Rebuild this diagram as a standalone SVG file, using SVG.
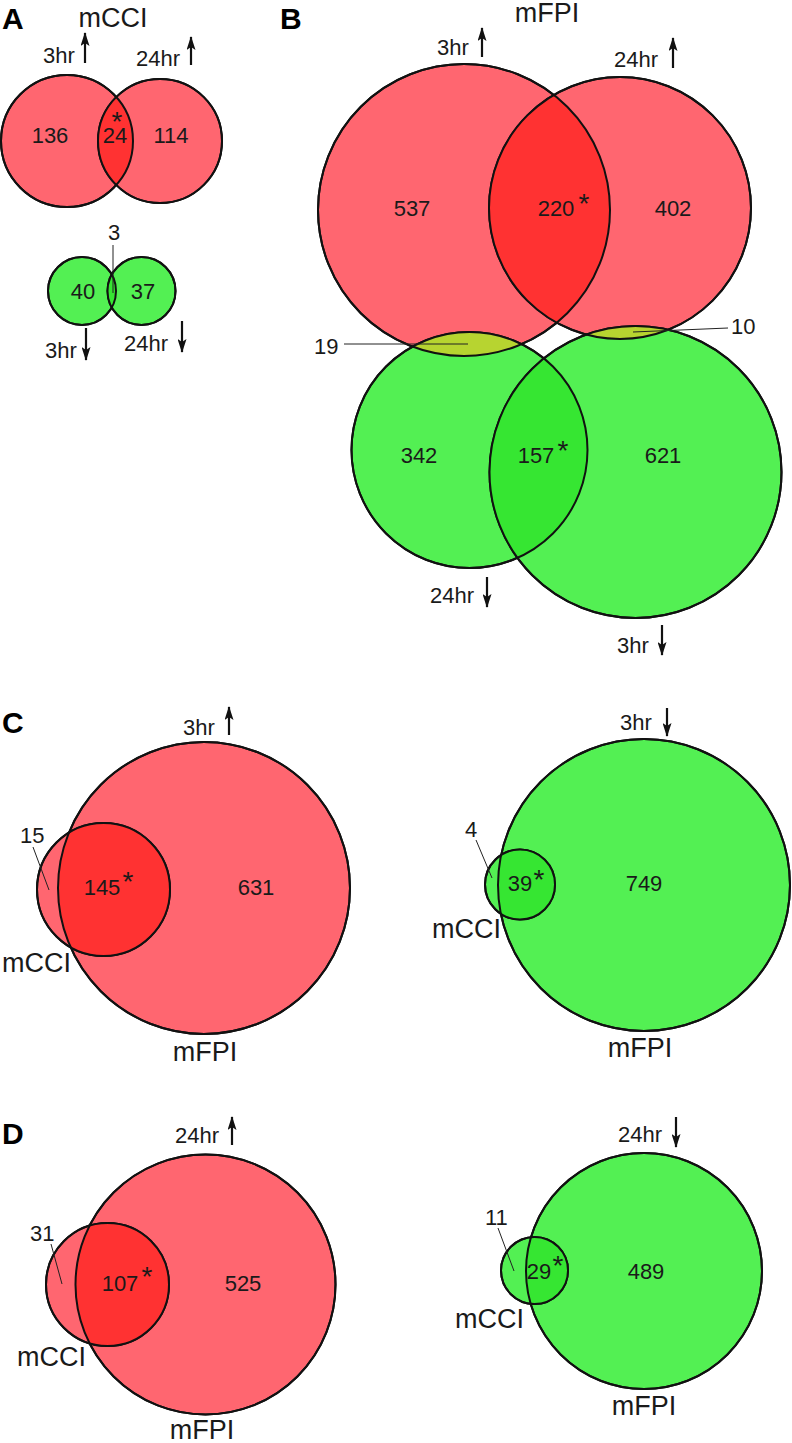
<svg xmlns="http://www.w3.org/2000/svg" width="792" height="1443" viewBox="0 0 792 1443">
<style>
.red{fill:#ff6670;stroke:#111;stroke-width:2}
.green{fill:#53f053;stroke:#111;stroke-width:2}
.dred{fill:#ff3232}
.dgreen{fill:#36e632}
.yel{fill:#b7d430}
.ol{fill:none;stroke:#111;stroke-width:2}
text{font-family:"Liberation Sans",Arial,sans-serif;fill:#1a1a1a}
.num{font-size:22px;text-anchor:middle}
.lab{font-size:22px}
.big{font-size:27px}
.mid{text-anchor:middle}
.star{font-size:28px;text-anchor:middle}
.pl{font-size:30px;font-weight:bold;fill:#000}
.lead{stroke:#222;stroke-width:1;fill:none}
.arr{stroke:#111;stroke-width:2.2;fill:none;marker-end:url(#ah)}
</style>
<defs>
<marker id="ah" markerUnits="userSpaceOnUse" markerWidth="14" markerHeight="9" refX="13" refY="4.5" orient="auto" viewBox="0 0 14 9">
<path d="M0,0 L14,4.5 L0,9 L3,4.5 z" fill="#111"/>
</marker>
<clipPath id="cAr1"><circle cx="67" cy="141" r="66"/></clipPath>
<clipPath id="cAg1"><circle cx="82" cy="291" r="34"/></clipPath>
<clipPath id="cBr1"><circle cx="464" cy="210" r="146"/></clipPath>
<clipPath id="cBr2"><circle cx="620" cy="208" r="131"/></clipPath>
<clipPath id="cBg1"><circle cx="469.5" cy="450" r="118"/></clipPath>
<clipPath id="cCl"><circle cx="204" cy="888" r="146"/></clipPath>
<clipPath id="cCr"><circle cx="644" cy="885" r="146"/></clipPath>
<clipPath id="cDl"><circle cx="205.5" cy="1284.5" r="130"/></clipPath>
<clipPath id="cDr"><circle cx="644" cy="1271" r="118"/></clipPath>
</defs>
<rect width="792" height="1443" fill="#fff"/>

<!-- Panel A -->
<g id="panelA">
<text class="pl" x="2" y="29">A</text>
<text class="big mid" x="113" y="27">mCCI</text>
<g id="A-3hr-up"><circle class="red" cx="67" cy="141" r="66"/></g>
<g id="A-24hr-up"><circle class="red" cx="160" cy="141" r="62"/></g>
<g id="A-up-overlap"><circle class="dred" cx="160" cy="141" r="62" clip-path="url(#cAr1)"/></g>
<circle class="ol" cx="67" cy="141" r="66"/>
<circle class="ol" cx="160" cy="141" r="62"/>
<text class="lab" x="43" y="63">3hr</text>
<text class="lab" x="136" y="66">24hr</text>
<text class="num" x="50" y="143">136</text>
<text class="num" x="115" y="143">24</text>
<text class="star" x="117" y="131">*</text>
<text class="num" x="171" y="143">114</text>

<g id="A-3hr-down"><circle class="green" cx="82" cy="291" r="34"/></g>
<g id="A-24hr-down"><circle class="green" cx="141.5" cy="291" r="34"/></g>
<g id="A-down-overlap"><circle class="dgreen" cx="141.5" cy="291" r="34" clip-path="url(#cAg1)"/></g>
<circle class="ol" cx="82" cy="291" r="34"/>
<circle class="ol" cx="141.5" cy="291" r="34"/>
<text class="num" x="114" y="240">3</text>
<text class="num" x="83" y="299">40</text>
<text class="num" x="143" y="299">37</text>
<text class="lab" x="45" y="358">3hr</text>
<text class="lab" x="124" y="351">24hr</text>
</g>

<!-- Panel B -->
<g id="panelB">
<text class="pl" x="280" y="29">B</text>
<text class="big mid" x="547" y="22">mFPI</text>
<g id="B-3hr-up"><circle class="red" cx="464" cy="210" r="146"/></g>
<g id="B-24hr-up"><circle class="red" cx="620" cy="208" r="131"/></g>
<g id="B-24hr-down"><circle class="green" cx="469.5" cy="450" r="118"/></g>
<g id="B-3hr-down"><circle class="green" cx="635.5" cy="472" r="146"/></g>
<g id="B-overlaps">
<circle class="dred" cx="620" cy="208" r="131" clip-path="url(#cBr1)"/>
<circle class="dgreen" cx="635.5" cy="472" r="146" clip-path="url(#cBg1)"/>
<circle class="yel" cx="469.5" cy="450" r="118" clip-path="url(#cBr1)"/>
<circle class="yel" cx="635.5" cy="472" r="146" clip-path="url(#cBr2)"/>
</g>
<circle class="ol" cx="464" cy="210" r="146"/>
<circle class="ol" cx="620" cy="208" r="131"/>
<circle class="ol" cx="469.5" cy="450" r="118"/>
<circle class="ol" cx="635.5" cy="472" r="146"/>
<text class="lab" x="437" y="55">3hr</text>
<text class="lab" x="614" y="67">24hr</text>
<text class="num" x="412" y="216">537</text>
<text class="num" x="556" y="216">220</text>
<text class="star" x="584" y="213">*</text>
<text class="num" x="673" y="216">402</text>
<text class="lab" x="314" y="354">19</text>
<text class="lab" x="731" y="334">10</text>
<text class="num" x="419" y="463">342</text>
<text class="num" x="536" y="463">157</text>
<text class="star" x="563" y="460">*</text>
<text class="num" x="663" y="463">621</text>
<text class="lab" x="430" y="603">24hr</text>
<text class="lab" x="617" y="653">3hr</text>
</g>

<!-- Panel C -->
<g id="panelC">
<text class="pl" x="2" y="733">C</text>
<g id="C-mFPI-up"><circle class="red" cx="204" cy="888" r="146"/></g>
<g id="C-mCCI-up"><circle class="red" cx="103.5" cy="889.5" r="66.5"/></g>
<g id="C-up-overlap"><circle class="dred" cx="103.5" cy="889.5" r="66.5" clip-path="url(#cCl)"/></g>
<circle class="ol" cx="204" cy="888" r="146"/>
<circle class="ol" cx="103.5" cy="889.5" r="66.5"/>
<text class="lab" x="183" y="735">3hr</text>
<text class="lab" x="20" y="843">15</text>
<text class="num" x="102" y="895">145</text>
<text class="star" x="128" y="891">*</text>
<text class="num" x="256" y="895">631</text>
<text class="big" x="2" y="972">mCCI</text>
<text class="big mid" x="205" y="1061">mFPI</text>

<g id="C-mFPI-down"><circle class="green" cx="644" cy="885" r="146"/></g>
<g id="C-mCCI-down"><circle class="green" cx="520" cy="884.5" r="35"/></g>
<g id="C-down-overlap"><circle class="dgreen" cx="520" cy="884.5" r="35" clip-path="url(#cCr)"/></g>
<circle class="ol" cx="644" cy="885" r="146"/>
<circle class="ol" cx="520" cy="884.5" r="35"/>
<text class="lab" x="620" y="730">3hr</text>
<text class="lab" x="465" y="837">4</text>
<text class="num" x="520" y="891">39</text>
<text class="star" x="539" y="889">*</text>
<text class="num" x="644" y="891">749</text>
<text class="big" x="432" y="938">mCCI</text>
<text class="big mid" x="640" y="1057">mFPI</text>
</g>

<!-- Panel D -->
<g id="panelD">
<text class="pl" x="2" y="1144">D</text>
<g id="D-mFPI-up"><circle class="red" cx="205.5" cy="1284.5" r="130"/></g>
<g id="D-mCCI-up"><circle class="red" cx="107.5" cy="1284.5" r="61.5"/></g>
<g id="D-up-overlap"><circle class="dred" cx="107.5" cy="1284.5" r="61.5" clip-path="url(#cDl)"/></g>
<circle class="ol" cx="205.5" cy="1284.5" r="130"/>
<circle class="ol" cx="107.5" cy="1284.5" r="61.5"/>
<text class="lab" x="175" y="1143">24hr</text>
<text class="lab" x="30" y="1241">31</text>
<text class="num" x="120" y="1291">107</text>
<text class="star" x="147" y="1286">*</text>
<text class="num" x="243" y="1291">525</text>
<text class="big" x="17" y="1366">mCCI</text>
<text class="big mid" x="202" y="1439">mFPI</text>

<g id="D-mFPI-down"><circle class="green" cx="644" cy="1271" r="118"/></g>
<g id="D-mCCI-down"><circle class="green" cx="534.5" cy="1270.5" r="33.5"/></g>
<g id="D-down-overlap"><circle class="dgreen" cx="534.5" cy="1270.5" r="33.5" clip-path="url(#cDr)"/></g>
<circle class="ol" cx="644" cy="1271" r="118"/>
<circle class="ol" cx="534.5" cy="1270.5" r="33.5"/>
<text class="lab" x="618" y="1142">24hr</text>
<text class="lab" x="485" y="1225">11</text>
<text class="num" x="539" y="1279">29</text>
<text class="star" x="558" y="1275">*</text>
<text class="num" x="646" y="1279">489</text>
<text class="big" x="455" y="1328">mCCI</text>
<text class="big mid" x="644" y="1415">mFPI</text>
</g>

<!-- Connectors: leader lines and direction arrows -->
<g id="connectors">
<line class="lead" x1="113" y1="245" x2="113" y2="293"/>
<line class="lead" x1="344" y1="344" x2="468" y2="344"/>
<line class="lead" x1="728" y1="328" x2="633" y2="332"/>
<line class="lead" x1="33" y1="847" x2="49" y2="890"/>
<line class="lead" x1="476" y1="840" x2="492" y2="878"/>
<line class="lead" x1="51" y1="1244" x2="62" y2="1284"/>
<line class="lead" x1="498" y1="1228" x2="514" y2="1271"/>
<path class="arr" d="M85,63 V33"/>
<path class="arr" d="M191,65 V37"/>
<path class="arr" d="M86,328 V360"/>
<path class="arr" d="M182,321 V352"/>
<path class="arr" d="M482,57 V28"/>
<path class="arr" d="M673,68 V38"/>
<path class="arr" d="M487,577 V607"/>
<path class="arr" d="M662,625 V655"/>
<path class="arr" d="M229,735 V707"/>
<path class="arr" d="M667,708 V736"/>
<path class="arr" d="M232,1145 V1117"/>
<path class="arr" d="M676,1117 V1147"/>
</g>
</svg>
